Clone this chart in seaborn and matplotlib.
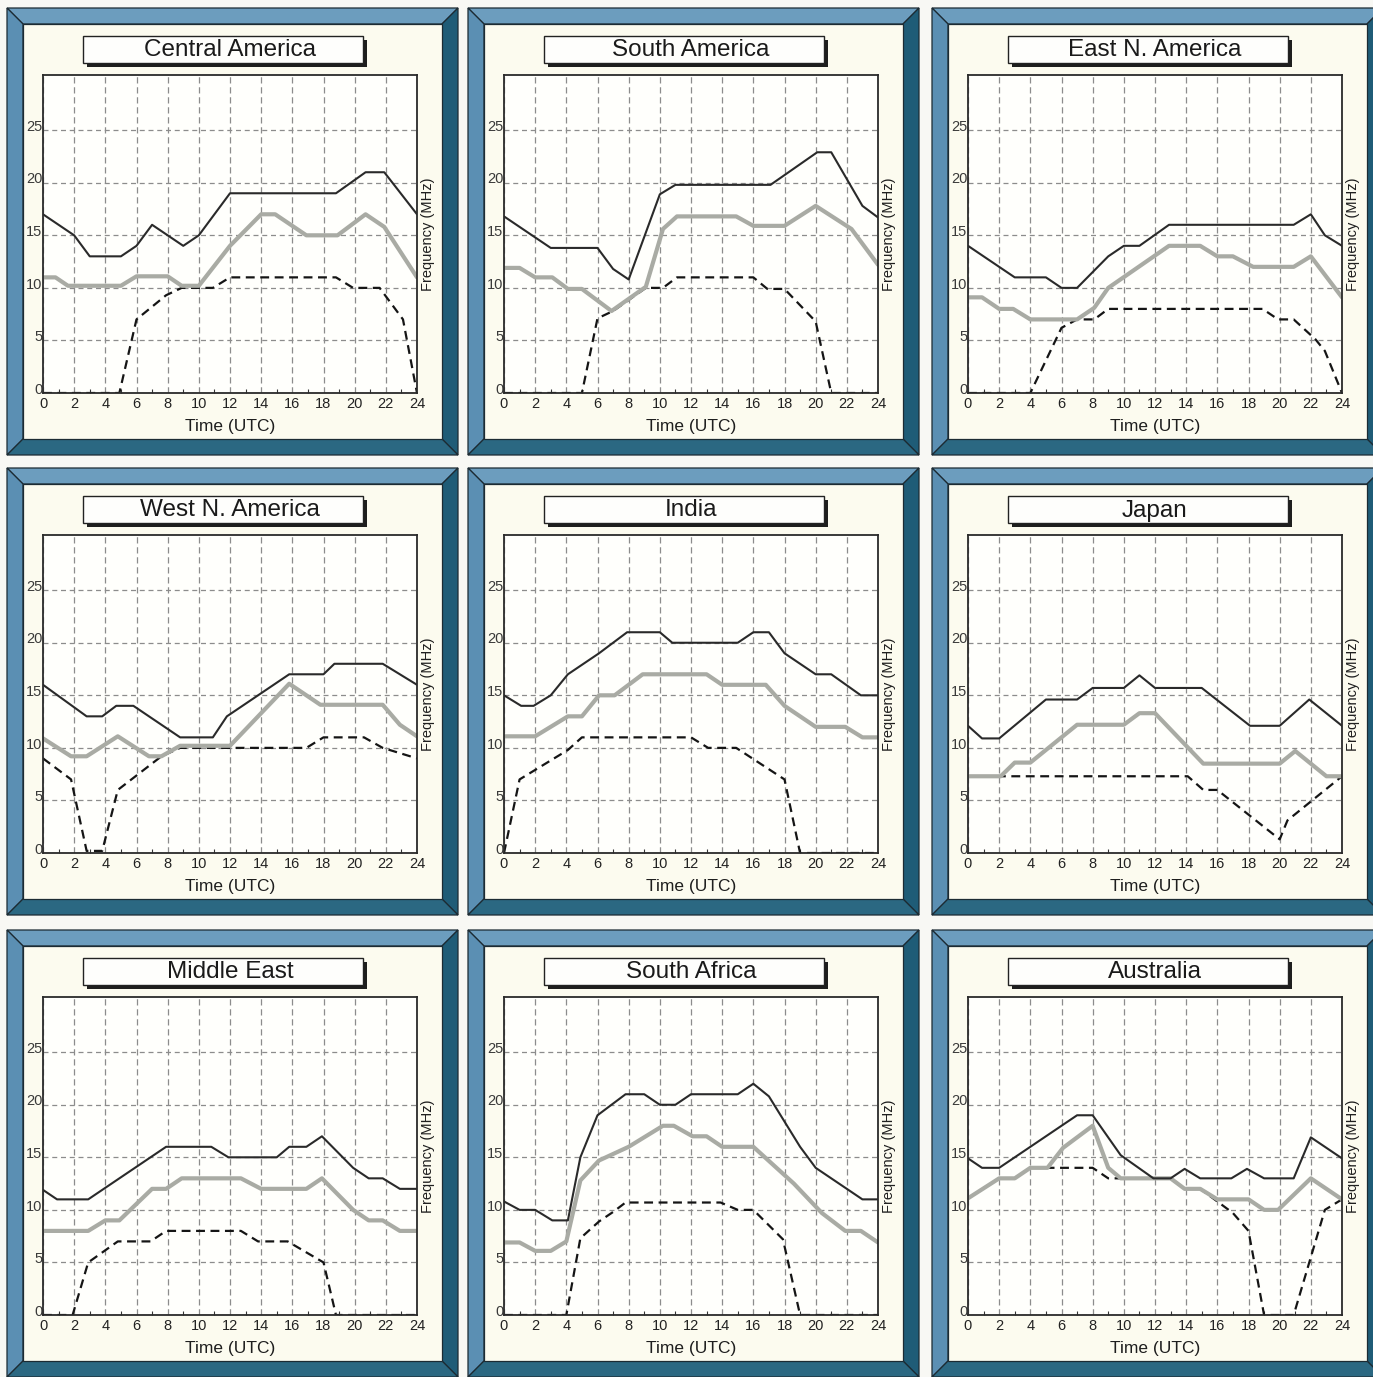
import matplotlib
matplotlib.use("Agg")
import seaborn as sns
import matplotlib.pyplot as plt
from matplotlib.patches import Polygon, Rectangle
from matplotlib.ticker import MultipleLocator
from matplotlib.transforms import ScaledTranslation

sns.set_theme(style="white")
plt.rcParams['font.family'] = ['Liberation Sans', 'DejaVu Sans']

#############################################
# data (hour, MHz)
# top = dark solid line, mid = thick grey line, low = dashed line
#############################################
regions = ["Central America", "South America", "East N. America",
           "West N. America", "India", "Japan",
           "Middle East", "South Africa", "Australia"]

hour_ticks = [0, 2, 4, 6, 8, 10, 12, 14, 16, 18, 20, 22, 24]
freq_ticks = [0, 5, 10, 15, 20, 25]

# Central America
cam_top_x = [0, 2, 3, 5, 6, 7, 9, 10, 12, 18.8, 20.7, 21.9, 24]
cam_top_y = [17, 15, 13, 13, 14, 16, 14, 15, 19, 19, 21, 21, 17]
cam_mid_x = [0, 0.8, 1.6, 5, 6, 8, 8.9, 10, 12, 14, 14.9, 16.9, 18.9, 20.7, 21.9, 24]
cam_mid_y = [11, 11, 10.2, 10.2, 11.1, 11.1, 10.2, 10.2, 14, 17, 17, 15, 15, 17, 15.8, 11]
cam_low_x = [0, 4.9, 6, 7.9, 8.9, 10.9, 12, 18.8, 19.9, 21.6, 22.6, 23.1, 24]
cam_low_y = [0, 0, 7, 9.3, 10, 10, 11, 11, 10, 10, 8, 7, 0]

# South America
sam_top_x = [0, 3, 6, 7, 8, 10, 11, 17.1, 20.1, 21, 23, 24]
sam_top_y = [16.8, 13.8, 13.8, 11.8, 10.8, 18.9, 19.8, 19.8, 22.9, 22.9, 17.8, 16.7]
sam_mid_x = [0, 1, 2, 3.1, 4.1, 5, 6.9, 9.1, 10.2, 11.1, 14.9, 16, 18, 20, 22.3, 24]
sam_mid_y = [11.9, 11.9, 11, 11, 9.9, 9.9, 7.8, 10.1, 15.6, 16.8, 16.8, 15.9, 15.9, 17.8, 15.6, 12.2]
sam_low_x = [0, 5, 6, 7, 9.1, 10.2, 11.1, 16, 16.9, 18, 20, 21, 24]
sam_low_y = [0, 0, 7.1, 7.8, 10, 10, 11, 11, 9.9, 9.9, 6.8, 0, 0]

# East N. America
ena_top_x = [0, 3, 5, 6, 7, 9, 10, 11, 12.9, 20.9, 22, 22.9, 24]
ena_top_y = [14, 11, 11, 10, 10, 13, 14, 14, 16, 16, 17, 15, 14]
ena_mid_x = [0, 0.9, 2, 2.9, 4, 7, 8.1, 9, 12.9, 14.9, 16, 17, 18.3, 20.9, 22, 24]
ena_mid_y = [9.1, 9.1, 8, 8, 7, 7, 8.1, 10, 14, 14, 13, 13, 12, 12, 13, 9.1]
ena_low_x = [0, 4, 6, 7, 8.1, 9, 18.9, 19.9, 20.9, 22.3, 22.9, 24]
ena_low_y = [0, 0, 6.2, 7, 7, 8, 8, 7, 7, 5.1, 4, 0]

# West N. America
wna_top_x = [0, 2.8, 3.8, 4.7, 5.8, 8.8, 10.9, 11.8, 15.8, 18, 18.7, 21.8, 24]
wna_top_y = [16, 13, 13, 14, 14, 11, 11, 13, 17, 17, 18, 18, 16]
wna_mid_x = [0, 1.8, 2.8, 4.8, 6.8, 7.6, 8.8, 12, 15.8, 17.8, 21.8, 22.9, 24]
wna_mid_y = [10.9, 9.2, 9.2, 11.1, 9.2, 9.2, 10.2, 10.2, 16.1, 14.1, 14.1, 12.2, 11.1]
wna_low_x = [0, 1.8, 2.8, 3.8, 4.8, 7.6, 8.8, 16.9, 18, 20.6, 21.8, 24]
wna_low_y = [9, 7, 0.2, 0.2, 6, 9.2, 10, 10, 11, 11, 10, 9]

# India
ind_top_x = [0, 1.1, 1.9, 3, 4.1, 6.1, 7.9, 10, 10.8, 15, 16, 17, 18, 20, 21, 22.9, 24]
ind_top_y = [15, 14, 14, 15, 17, 19, 21, 21, 20, 20, 21, 21, 19, 17, 17, 15, 15]
ind_mid_x = [0, 2, 4.1, 5, 6.1, 7.1, 8.9, 13, 14, 16.8, 18, 20, 21.9, 23, 24]
ind_mid_y = [11.1, 11.1, 13, 13, 15, 15, 17, 17, 16, 16, 14, 12, 12, 11, 11]
ind_low_x = [0, 1, 4.1, 5, 12, 13.1, 14.9, 18, 19, 24]
ind_low_y = [0, 7, 9.8, 11, 11, 10, 10, 7, 0, 0]

# Japan
jap_top_x = [0, 0.9, 2, 5, 7, 8, 10, 11, 12, 15, 18.1, 20, 21.9, 24]
jap_top_y = [12.1, 10.9, 10.9, 14.6, 14.6, 15.7, 15.7, 16.9, 15.7, 15.7, 12.1, 12.1, 14.6, 12.1]
jap_mid_x = [0, 2.1, 3, 4, 7, 10, 11, 12, 15.1, 20, 21, 23, 24]
jap_mid_y = [7.3, 7.3, 8.6, 8.6, 12.2, 12.2, 13.3, 13.3, 8.5, 8.5, 9.7, 7.3, 7.3]
jap_low_x = [0, 14.1, 15.1, 16, 20, 20.5, 24]
jap_low_y = [7.3, 7.3, 6, 6, 1.3, 3.1, 7.3]

# Middle East
mde_top_x = [0, 0.9, 2.9, 7.9, 10.8, 11.9, 15, 15.8, 16.9, 17.9, 19.9, 20.9, 21.8, 22.9, 24]
mde_top_y = [11.9, 11, 11, 16, 16, 15, 15, 16, 16, 17, 14, 13, 13, 12, 12]
mde_mid_x = [0, 2.9, 4, 4.9, 7, 7.9, 8.9, 12.7, 14, 16.9, 17.9, 19.9, 20.9, 21.8, 22.9, 24]
mde_mid_y = [8, 8, 9, 9, 12, 12, 13, 13, 12, 12, 13, 10, 9, 9, 8, 8]
mde_low_x = [0, 1.9, 2.9, 4.8, 6.9, 7.9, 12.7, 13.8, 15.7, 18, 18.8, 24]
mde_low_y = [0, 0, 5, 7, 7, 8, 8, 7, 7, 5, 0, 0]

# South Africa
saf_top_x = [0, 1, 2, 3.1, 4.1, 4.9, 6, 7.8, 9, 10, 11, 12, 15, 16, 17, 19, 20, 21, 23, 24]
saf_top_y = [10.8, 10, 10, 9, 9, 15, 19, 21, 21, 20, 20, 21, 21, 22, 20.8, 16, 14, 13, 11, 11]
saf_mid_x = [0, 1, 2, 3, 4, 4.9, 6.1, 8, 10.2, 10.9, 12.1, 13, 14, 16, 18.6, 20.4, 21.9, 22.9, 24]
saf_mid_y = [6.9, 6.9, 6.1, 6.1, 7, 12.8, 14.7, 16, 18, 18, 17, 17, 16, 16, 12.5, 9.7, 8, 8, 6.9]
saf_low_x = [0, 4, 4.9, 6.1, 7, 7.8, 13.9, 15, 16, 17.9, 19, 24]
saf_low_y = [0, 0, 7.3, 8.9, 9.8, 10.7, 10.7, 10, 10, 7.2, 0, 0]

# Australia
aus_top_x = [0, 0.9, 2, 7, 8, 9.8, 11.9, 13, 13.9, 14.9, 16.9, 17.9, 19, 20.9, 22, 24]
aus_top_y = [14.9, 14, 14, 19, 19, 15.2, 13, 13, 13.9, 13, 13, 13.9, 13, 13, 16.9, 14.9]
aus_mid_x = [0, 2, 3, 4, 5.1, 6.1, 8, 9, 9.8, 13, 13.9, 14.9, 16, 18, 19, 19.9, 22, 24]
aus_mid_y = [11.1, 13, 13, 14, 14, 15.9, 18, 14, 13, 13, 12, 12, 11, 11, 10, 10, 13, 11]
aus_low_x = [0, 2, 3, 4, 5.1, 8, 9, 13, 13.9, 14.9, 16, 17, 18, 19, 20.9, 21.9, 22.9, 24]
aus_low_y = [11.1, 13, 13, 14, 14, 14, 13, 13, 12, 12, 10.8, 9.7, 8, 0, 0, 5, 10, 11]

panel_series = [
    (cam_top_x, cam_top_y, cam_mid_x, cam_mid_y, cam_low_x, cam_low_y),
    (sam_top_x, sam_top_y, sam_mid_x, sam_mid_y, sam_low_x, sam_low_y),
    (ena_top_x, ena_top_y, ena_mid_x, ena_mid_y, ena_low_x, ena_low_y),
    (wna_top_x, wna_top_y, wna_mid_x, wna_mid_y, wna_low_x, wna_low_y),
    (ind_top_x, ind_top_y, ind_mid_x, ind_mid_y, ind_low_x, ind_low_y),
    (jap_top_x, jap_top_y, jap_mid_x, jap_mid_y, jap_low_x, jap_low_y),
    (mde_top_x, mde_top_y, mde_mid_x, mde_mid_y, mde_low_x, mde_low_y),
    (saf_top_x, saf_top_y, saf_mid_x, saf_mid_y, saf_low_x, saf_low_y),
    (aus_top_x, aus_top_y, aus_mid_x, aus_mid_y, aus_low_x, aus_low_y),
]

#############################################
# layout (pixels)
#############################################
W_PX, H_PX = 1373, 1377
col_x = [7, 468, 932]
row_y = [8, 468, 930]
FRAME_W, FRAME_H, BEVEL = 451, 447, 16


def fpt(x, y):
    return (x / W_PX, 1 - y / H_PX)


def frect(x, y, w, h):
    return [x / W_PX, 1 - (y + h) / H_PX, w / W_PX, h / H_PX]


def draw_frame(fig, ox, oy):
    W, H, b = FRAME_W, FRAME_H, BEVEL
    parts = [
        ([(0, 0), (W, 0), (W - b, b), (b, b)], '#6c9dbe'),
        ([(0, 0), (b, b), (b, H - b), (0, H)], '#5b8fb3'),
        ([(W, 0), (W, H), (W - b, H - b), (W - b, b)], '#1f5c77'),
        ([(0, H), (W, H), (W - b, H - b), (b, H - b)], '#2b6882'),
        ([(b, b), (W - b, b), (W - b, H - b), (b, H - b)], '#fcfbef'),
    ]
    for pts, fc in parts:
        fig.add_artist(Polygon([fpt(ox + x, oy + y) for x, y in pts], closed=True,
                               transform=fig.transFigure, facecolor=fc,
                               edgecolor='#1c2b33', linewidth=0.9, zorder=-2))


def draw_title(fig, ox, oy, name):
    bx, by, bw, bh = ox + 76, oy + 28, 280, 27
    fig.add_artist(Rectangle(fpt(bx + 4, by + bh + 4), bw / W_PX, bh / H_PX,
                             transform=fig.transFigure, facecolor='#1e1e1e',
                             edgecolor='none', zorder=-1.5))
    fig.add_artist(Rectangle(fpt(bx, by + bh), bw / W_PX, bh / H_PX,
                             transform=fig.transFigure, facecolor='#fefefc',
                             edgecolor='#222222', linewidth=1.0, zorder=-1))
    cx, cy = fpt(bx + bw / 2 + 7, by + bh / 2 + 1)
    fig.text(cx, cy, name, ha='center', va='center', fontsize=17.5, color='#1a1a1a')


fig = plt.figure(figsize=(W_PX / 100, H_PX / 100), dpi=100)
fig.patch.set_facecolor('#f8f8f4')

for i, name in enumerate(regions):
    ox, oy = col_x[i % 3], row_y[i // 3]
    draw_frame(fig, ox, oy)
    draw_title(fig, ox, oy, name)

    ax = fig.add_axes(frect(ox + 36, oy + 67, 374, 318))
    ax.set_facecolor('#fffffc')
    tx, ty, mx, my, lx, ly = panel_series[i]

    sns.lineplot(x=lx, y=ly, ax=ax, color='#151515', linewidth=1.6,
                 linestyle=(0, (4, 2.5)), estimator=None, sort=False)
    sns.lineplot(x=mx, y=my, ax=ax, color='#a9aba4', linewidth=3.0,
                 estimator=None, sort=False)
    sns.lineplot(x=tx, y=ty, ax=ax, color='#2a2a2a', linewidth=1.5,
                 estimator=None, sort=False)

    ax.set_xlim(0, 24)
    ax.set_ylim(0, 30.25)
    ax.set_xticks(hour_ticks)
    ax.set_xticklabels([str(h) for h in hour_ticks])
    ax.set_yticks(freq_ticks)
    ax.set_yticklabels([str(f) for f in freq_ticks])
    ax.xaxis.set_minor_locator(MultipleLocator(1))

    ax.xaxis.grid(True, color='#8c8c8c', linestyle=(0, (5, 3)), linewidth=0.9)
    ax.yaxis.grid(True, color='#8c8c8c', linestyle=(0, (4, 3)), linewidth=0.9)
    ax.set_axisbelow(True)

    ax.tick_params(axis='x', which='major', length=0, pad=3, labelsize=10.5,
                   labelcolor='#222222')
    ax.tick_params(axis='x', which='minor', bottom=True, direction='in',
                   length=3, width=0.8, color='#333333')
    ax.tick_params(axis='y', which='major', length=0, pad=0.5, labelsize=10.5,
                   labelcolor='#3a3a3a')
    # y labels sit a little above their grid lines in the original
    lift = ScaledTranslation(0, 3.5 / 72, fig.dpi_scale_trans)
    for lab in ax.get_yticklabels():
        lab.set_transform(lab.get_transform() + lift)

    for sp in ax.spines.values():
        sp.set_color('#2a2a2a')
        sp.set_linewidth(1.3)

    ax.set_xlabel('Time (UTC)', fontsize=12.5, labelpad=6, color='#1e1e1e')
    ax.set_ylabel('Frequency (MHz)', fontsize=10.5, labelpad=3, color='#1e1e1e')
    ax.yaxis.set_label_position('right')

plt.savefig('out.png', dpi=100, facecolor=fig.get_facecolor())
